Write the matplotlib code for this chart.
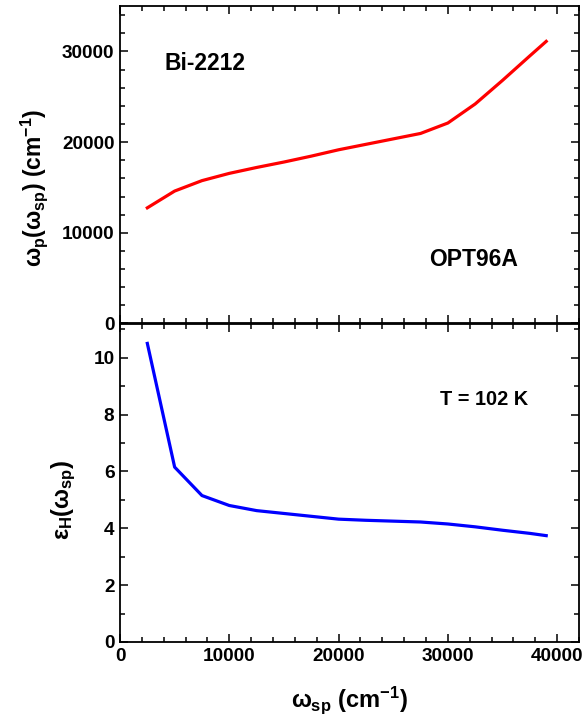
import matplotlib
matplotlib.use("Agg")
import matplotlib.pyplot as plt
import matplotlib.ticker as tck

plt.rcParams['font.family'] = ['Liberation Sans', 'DejaVu Sans']
plt.rcParams['font.weight'] = 'bold'
plt.rcParams['mathtext.fontset'] = 'custom'
plt.rcParams['mathtext.rm'] = 'Liberation Sans:bold'
plt.rcParams['mathtext.it'] = 'Liberation Sans:bold'
plt.rcParams['mathtext.bf'] = 'Liberation Sans:bold'

# omega_sp (cm^-1)
w_sp = [2500, 5000, 7500, 10000, 12500, 15000, 17500, 20000, 22500,
        25000, 27500, 30000, 32500, 35000, 37500, 39000]
# plasma frequency omega_p (cm^-1)
w_p = [12750, 14600, 15750, 16550, 17200, 17800, 18450, 19150, 19750,
       20350, 20950, 22100, 24200, 26800, 29500, 31100]
# epsilon_H
eps_h = [10.5, 6.15, 5.15, 4.8, 4.62, 4.52, 4.42, 4.32, 4.28,
         4.25, 4.22, 4.15, 4.05, 3.93, 3.82, 3.74]

fig = plt.figure(figsize=(5.83, 7.24), dpi=100)
ax1 = fig.add_axes([120/583, 1-323.5/724, 459/583, 317.5/724])
ax2 = fig.add_axes([120/583, 1-642/724, 459/583, 318.5/724], sharex=ax1)

ax1.plot(w_sp, w_p, color="#ff0000", lw=2.3)
ax2.plot(w_sp, eps_h, color="#0000ff", lw=2.3)

ax1.set_xlim(0, 42000)
ax1.set_ylim(0, 35000)
ax2.set_ylim(0, 11.2)

ax1.yaxis.set_major_locator(tck.MultipleLocator(10000))
ax1.yaxis.set_minor_locator(tck.MultipleLocator(2000))
ax2.yaxis.set_major_locator(tck.MultipleLocator(2))
ax2.yaxis.set_minor_locator(tck.MultipleLocator(1))
ax2.xaxis.set_major_locator(tck.MultipleLocator(10000))
ax2.xaxis.set_minor_locator(tck.MultipleLocator(2000))

for ax in (ax1, ax2):
    ax.tick_params(which="both", direction="in", top=True, right=True,
                   width=1.1, labelsize=13.7, pad=4)
    ax.tick_params(which="major", length=6)
    ax.tick_params(which="minor", length=3.5)
    for s in ax.spines.values():
        s.set_linewidth(1.3)
    for lab in ax.get_xticklabels() + ax.get_yticklabels():
        lab.set_fontweight("bold")
ax1.tick_params(labelbottom=False)

ax1.set_ylabel(r"$\omega_{p}(\omega_{sp})$ (cm$^{-1}$)", fontsize=16.5,
               fontweight="bold")
ax1.yaxis.set_label_coords(-70/459, (324-188)/317.5)
ax2.set_ylabel(r"$\varepsilon_{H}(\omega_{sp})$", fontsize=17)
ax2.yaxis.set_label_coords(-42/459, (642-500)/318.5)
ax2.set_xlabel(r"$\omega_{sp}$ (cm$^{-1}$)", fontsize=17, fontweight="bold",
               labelpad=14)

ax1.text(4100, 27900, "Bi-2212", fontsize=16.5, fontweight="bold")
ax1.text(28300, 6370, "OPT96A", fontsize=16.5, fontweight="bold")
ax2.text(29300, 8.33, "T = 102 K", fontsize=14.3, fontweight="bold")

plt.savefig("out.png", dpi=100)
